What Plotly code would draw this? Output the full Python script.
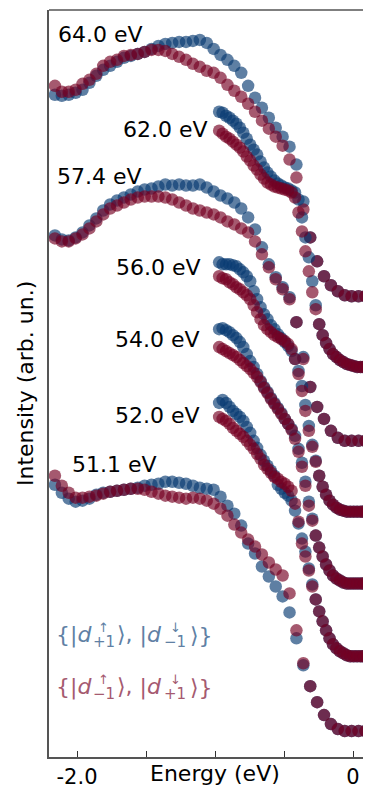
import plotly.graph_objects as go

# ---------------- data ----------------
# energy grids (eV)
E_full = [-2.16, -2.11, -2.06, -2.01, -1.96, -1.91, -1.86, -1.81, -1.76, -1.71,
          -1.66, -1.61, -1.56, -1.51, -1.46, -1.41, -1.36, -1.31, -1.26, -1.21,
          -1.16, -1.11, -1.06, -1.01, -0.96, -0.91, -0.86, -0.81, -0.76, -0.71,
          -0.66, -0.61, -0.56, -0.51, -0.46, -0.41, -0.36, -0.31, -0.26, -0.21,
          -0.16, -0.11, -0.06, -0.01, 0.04, 0.09, 0.14]
E_part = [-0.97, -0.945, -0.92, -0.895, -0.87, -0.845, -0.82, -0.795, -0.77, -0.745,
          -0.72, -0.695, -0.67, -0.645, -0.62, -0.595, -0.57, -0.545, -0.52, -0.495,
          -0.47, -0.445, -0.42, -0.395, -0.37, -0.345, -0.32, -0.295, -0.27, -0.245,
          -0.22, -0.195, -0.17, -0.145, -0.12, -0.095, -0.07, -0.045, -0.02, 0.005,
          0.03, 0.055, 0.08, 0.105, 0.13]

# intensities (arb. un., vertically offset spectra)
I64_blue = [664, 663, 664, 666, 669, 676, 683, 689, 693, 697, 701, 703, 705, 707, 710, 713,
            715, 716, 717, 717, 718, 719, 716, 710, 704, 699, 693, 686, 673, 661, 651, 641,
            631, 622, 612, 594, 557, 521, 497, 482, 473, 467, 463, 462, 462, 462, 462]
I64_red = [673, 667, 667, 669, 675, 679, 685, 693, 697, 699, 703, 704, 705, 707, 709, 709,
           708, 705, 702, 699, 695, 692, 688, 686, 681, 674, 668, 662, 655, 647, 638, 630,
           622, 613, 599, 581, 549, 521, 497, 482, 473, 467, 463, 462, 462, 462, 462]

I62_blue = [647, 646, 643, 641, 638, 635, 631, 626, 620, 614, 609, 604, 597, 591, 586, 582,
            578, 575, 573, 571, 570, 568, 566, 559, 541, 521, 501, 477, 453, 434, 423, 415,
            409, 404, 401, 398, 396, 394, 393, 392, 391, 391, 391, 391, 391]
I62_red = [628, 625, 622, 620, 617, 614, 611, 607, 602, 598, 593, 589, 584, 580, 576, 574,
           572, 571, 570, 569, 568, 566, 561, 546, 527, 507, 487, 466, 449, 434, 423, 415,
           409, 404, 401, 398, 396, 394, 393, 392, 391, 391, 391, 391, 391]

I574_blue = [523, 519, 518, 521, 526, 533, 540, 548, 554, 558, 561, 564, 567, 569, 570, 572,
             574, 573, 574, 573, 573, 574, 571, 567, 563, 560, 556, 550, 541, 529, 511, 494,
             481, 471, 461, 436, 401, 371, 351, 339, 327, 320, 317, 317, 317, 317, 317]
I574_red = [520, 517, 517, 520, 524, 530, 537, 544, 550, 553, 556, 559, 561, 562, 562, 562,
            561, 559, 556, 553, 550, 548, 546, 544, 541, 537, 534, 530, 526, 517, 504, 491,
            479, 469, 459, 436, 399, 371, 351, 339, 327, 320, 317, 317, 317, 317, 317]

I56_blue = [496, 494, 494, 494, 493, 492, 489, 486, 482, 477, 467, 459, 451, 444, 439, 433,
            429, 424, 420, 416, 412, 407, 399, 387, 372, 353, 332, 313, 297, 282, 271, 263,
            257, 253, 250, 248, 247, 246, 246, 246, 246, 246, 246, 246, 246]
I56_red = [482, 480, 479, 476, 474, 471, 469, 466, 463, 459, 453, 446, 439, 433, 429, 426,
           423, 421, 419, 417, 414, 409, 399, 384, 367, 347, 327, 311, 296, 282, 271, 263,
           257, 253, 250, 248, 247, 246, 246, 246, 246, 246, 246, 246, 246]

I54_blue = [429, 430, 428, 426, 423, 420, 416, 411, 404, 397, 391, 384, 377, 371, 366, 360,
            355, 350, 345, 339, 334, 329, 322, 309, 295, 276, 256, 239, 222, 210, 201, 193,
            187, 182, 179, 177, 175, 174, 174, 174, 174, 174, 174, 174, 174]
I54_red = [411, 409, 407, 405, 403, 401, 398, 395, 392, 389, 385, 381, 376, 370, 365, 359,
           354, 349, 344, 339, 334, 328, 319, 306, 291, 272, 252, 237, 222, 210, 201, 193,
           187, 182, 179, 177, 175, 174, 174, 174, 174, 174, 174, 174, 174]

I52_blue = [355, 358, 355, 351, 347, 344, 341, 337, 331, 325, 317, 310, 303, 297, 292, 287,
            282, 273, 269, 265, 262, 257, 247, 234, 219, 206, 189, 173, 158, 146, 136, 127,
            119, 113, 109, 106, 104, 102, 101, 101, 101, 101, 101, 101, 101]
I52_red = [341, 339, 337, 334, 330, 327, 324, 321, 317, 313, 309, 304, 299, 293, 289, 285,
           281, 279, 276, 274, 271, 267, 254, 236, 214, 201, 187, 171, 158, 146, 136, 127,
           119, 113, 109, 106, 104, 102, 101, 101, 101, 101, 101, 101, 101]

I511_blue = [273, 265, 259, 256, 257, 259, 263, 265, 266, 267, 268, 269, 270, 272, 273, 274,
             276, 276, 275, 274, 272, 270, 269, 268, 261, 252, 244, 232, 214, 204, 191, 181,
             171, 161, 145, 119, 92, 71, 55, 42, 33, 28, 26, 26, 26, 26, 26]
I511_red = [282, 272, 265, 260, 260, 261, 262, 264, 266, 267, 268, 269, 269, 268, 266, 264,
            262, 261, 260, 259, 260, 259, 257, 254, 249, 242, 233, 225, 218, 211, 203, 195,
            188, 182, 164, 127, 94, 71, 55, 42, 33, 28, 26, 26, 26, 26, 26]

labels = ["64.0 eV", "62.0 eV", "57.4 eV", "56.0 eV", "54.0 eV", "52.0 eV", "51.1 eV"]
x_ticks = [-2.0, -1.5, -1.0, -0.5, 0.0]
x_ticktext = ["-2.0", "", "", "", "0"]

spectra = [
    (E_full, I64_blue, I64_red),
    (E_part, I62_blue, I62_red),
    (E_full, I574_blue, I574_red),
    (E_part, I56_blue, I56_red),
    (E_part, I54_blue, I54_red),
    (E_part, I52_blue, I52_red),
    (E_full, I511_blue, I511_red),
]

# ---------------- style ----------------
BLUE = "rgba(8,58,113,0.65)"
RED = "rgba(117,0,34,0.65)"
BLUE_TXT = "#6080a4"
RED_TXT = "#a55a70"
FONT = "DejaVu Sans"
OFF = 8                      # page body margin of the html page
W, H = 363, 781
ML, MR, MT, MB = 41, 0, 2, 30
XR = [-2.203, 0.1304]
YR = [0, 749]

fig = go.Figure()
for E, ib, ir in spectra:
    fig.add_trace(go.Scatter(x=E, y=ib, mode="markers",
                             marker=dict(size=12.5, color=BLUE, line=dict(width=0)),
                             showlegend=False, hoverinfo="skip"))
    fig.add_trace(go.Scatter(x=E, y=ir, mode="markers",
                             marker=dict(size=12.5, color=RED, line=dict(width=0)),
                             showlegend=False, hoverinfo="skip"))

# spectrum labels (data coords)
label_pos = [(-2.152, 724, "left"), (-1.036, 629, "right"), (-2.159, 582, "left"),
             (-1.087, 491, "right"), (-1.094, 419, "right"), (-1.094, 342, "right"),
             (-2.051, 293, "left")]
for txt, (lx, ly, anc) in zip(labels, label_pos):
    fig.add_annotation(x=lx, y=ly, xref="x", yref="y", text=txt, showarrow=False,
                       xanchor=anc, yanchor="middle",
                       font=dict(family=FONT, size=22, color="#000000"))

def px2paper(px, py):
    fx, fy = px - OFF, py - OFF
    return (fx - ML) / (W - ML - MR), (H - MB - fy) / (H - MT - MB)

def ann_px(px, py, text, size, color, anchor="left", angle=0):
    x, y = px2paper(px, py)
    fig.add_annotation(x=x, y=y, xref="paper", yref="paper", text=text, showarrow=False,
                       xanchor=anchor, yanchor="middle", textangle=angle,
                       font=dict(family=FONT, size=size, color=color))

# legend-like text rows
def spin_row(py, s1, a1, s2, a2, color):
    ann_px(54, py, "{|<i>d</i>", 22, color)
    ann_px(103, py - 8, a1, 13, color, "center")
    ann_px(91, py + 7, s1, 15, color)
    ann_px(115, py, "\u27e9, |<i>d</i>", 22, color)
    ann_px(175, py - 8, a2, 13, color, "center")
    ann_px(162, py + 7, s2, 15, color)
    ann_px(188, py, "\u27e9}", 22, color)

spin_row(637, "+1", "\u2191", "\u22121", "\u2193", BLUE_TXT)
spin_row(689, "\u22121", "\u2191", "+1", "\u2193", RED_TXT)

# axis titles
ann_px(26, 385, "Intensity (arb. un.)", 22, "#000000", "center", -90)
ann_px(215, 776, "Energy (eV)", 22, "#000000", "center")

# top spine
fig.add_shape(type="line", xref="paper", yref="paper", x0=0, x1=1, y0=1, y1=1,
              line=dict(color="#555555", width=1.5))

fig.update_layout(
    width=W, height=H,
    margin=dict(l=ML, r=MR, t=MT, b=MB, pad=0),
    paper_bgcolor="white", plot_bgcolor="white",
    xaxis=dict(range=XR, showgrid=False, zeroline=False, showline=True,
               linecolor="#555555", linewidth=1.5, ticks="inside", ticklen=6,
               tickwidth=1, tickcolor="#333333", tickvals=x_ticks, ticktext=x_ticktext,
               tickfont=dict(family=FONT, size=21, color="#000000"), fixedrange=True),
    yaxis=dict(range=YR, showgrid=False, zeroline=False, showline=True,
               linecolor="#555555", linewidth=1.5, showticklabels=False, ticks="",
               fixedrange=True),
    showlegend=False,
)

fig.write_html("out.html")
